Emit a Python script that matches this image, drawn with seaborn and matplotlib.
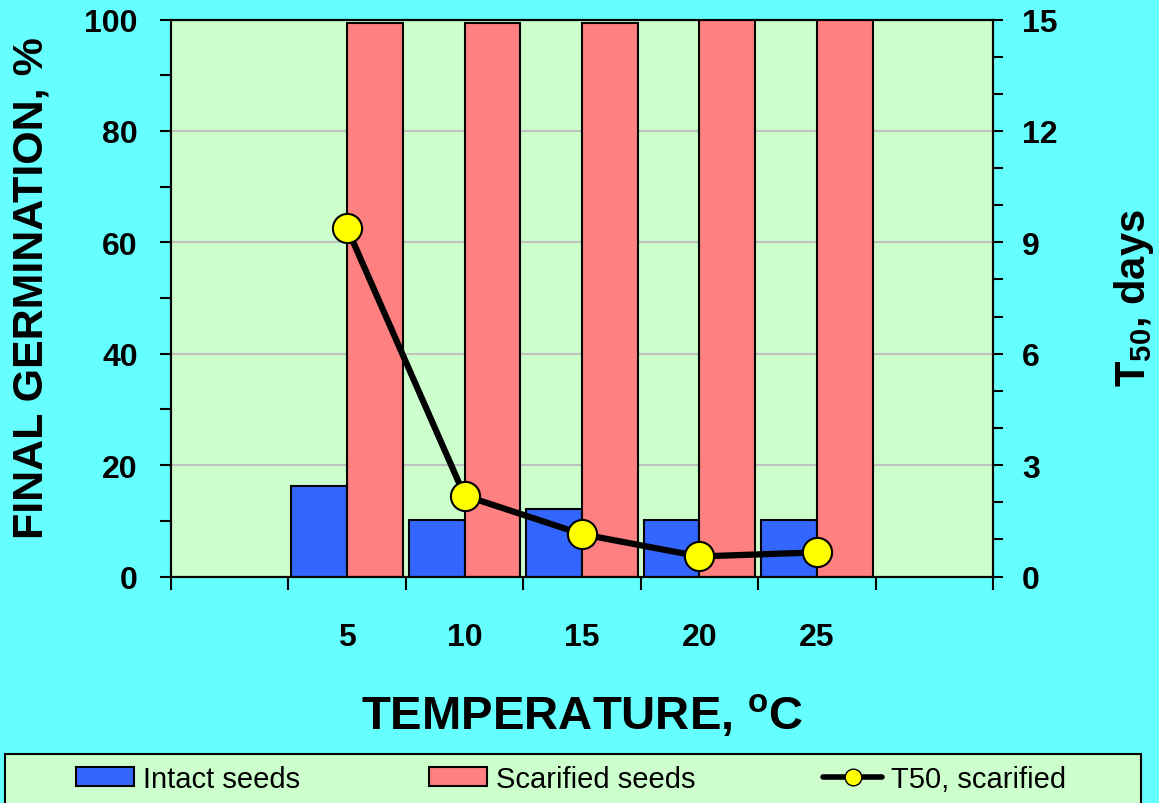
#import python libraries
import numpy as np
import pandas as pd

#import plotting libraries
import matplotlib
matplotlib.use('Agg')
import matplotlib.pyplot as plt
import matplotlib.patches as mpatches
from matplotlib.lines import Line2D
from matplotlib.ticker import MultipleLocator
import seaborn as sns

#data
temperatures = ['5', '10', '15', '20', '25']
intact_seeds = [16.2, 10.2, 12.2, 10.2, 10.2]
scarified_seeds = [99.3, 99.3, 99.3, 100, 100]
t50_scarified = [9.38, 2.18, 1.14, 0.54, 0.65]
series_names = ['Intact seeds', 'Scarified seeds']
line_name = 'T50, scarified'

#colours
intact_colour = '#3366FF'
scarified_colour = '#FF8080'
plot_bg = '#CCFFCC'
fig_bg = '#66FFFF'

sns.set_style('white')
plt.rcParams['font.family'] = ['Liberation Sans', 'DejaVu Sans']
plt.rcParams['mathtext.fontset'] = 'custom'
plt.rcParams['mathtext.rm'] = 'Liberation Sans'
plt.rcParams['mathtext.bf'] = 'Liberation Sans:bold'
for key in ['text.color', 'axes.labelcolor', 'xtick.color', 'ytick.color']:
    plt.rcParams[key] = 'black'

germination = pd.DataFrame({
    'temperature': temperatures * 2,
    'germination': intact_seeds + scarified_seeds,
    'seeds': [series_names[0]] * len(temperatures) + [series_names[1]] * len(temperatures),
})

fig = plt.figure(figsize=(11.59, 8.04), dpi=100, facecolor=fig_bg)
ax = fig.add_axes([171 / 1159, 1 - 577.5 / 804, 822 / 1159, 557 / 804])
ax.set_facecolor(plot_bg)
ax.set_axisbelow(True)

sns.barplot(data=germination, x='temperature', y='germination', hue='seeds',
            order=temperatures, hue_order=series_names,
            palette=[intact_colour, scarified_colour], saturation=1,
            width=0.95, edgecolor='black', linewidth=1.5, ax=ax, legend=False)

#T50 on the right axis
ax2 = ax.twinx()
sns.lineplot(x=np.arange(len(temperatures)), y=t50_scarified, ax=ax2,
             color='black', linewidth=4.5, marker='o', markersize=21,
             markerfacecolor='#FFFF00', markeredgecolor='black',
             markeredgewidth=1.5, legend=False)

ax.set_xlim(-1.5, len(temperatures) + 0.5)
ax.set_ylim(0, 100)
ax2.set_ylim(0, 15)

#x axis: ticks at category edges, labels at centres
ax.set_xticks(np.arange(-1.5, len(temperatures) + 0.6, 1))
ax.set_xticklabels([])
ax.set_xticks(np.arange(len(temperatures)), minor=True)
ax.set_xticklabels(temperatures, minor=True, fontsize=23, fontweight='bold')
ax.tick_params(axis='x', which='major', direction='out', length=9, width=1.5, bottom=True)
ax.tick_params(axis='x', which='minor', length=0, pad=33)

#left axis
ax.yaxis.set_major_locator(MultipleLocator(20))
ax.yaxis.set_minor_locator(MultipleLocator(10))
ax.tick_params(axis='y', which='both', direction='out', length=8, width=1.5, left=True, pad=16)
for lab in ax.get_yticklabels():
    lab.set_fontsize(23)
    lab.set_fontweight('bold')
ax.yaxis.grid(True, which='major', color='#C0C0C0', linewidth=1.5)
ax.set_xlabel('')
ax.set_ylabel('FINAL GERMINATION, %', fontsize=31, fontweight='bold')
ax.yaxis.set_label_coords(-0.145, 0.52)

#right axis
ax2.yaxis.set_major_locator(MultipleLocator(3))
ax2.yaxis.set_minor_locator(MultipleLocator(1))
ax2.tick_params(axis='y', which='both', direction='out', length=7, width=1.5, right=True, pad=14)
for lab in ax2.get_yticklabels():
    lab.set_fontsize(23)
    lab.set_fontweight('bold')
ax2.set_ylabel('')

for a in (ax, ax2):
    for sp in a.spines.values():
        sp.set_color('black')
        sp.set_linewidth(1.5)

fig.text(0.5 * (171 + 993) / 1159, 1 - 716 / 804, r'TEMPERATURE, $^{\mathbf{o}}$C',
         fontsize=34, fontweight='bold', ha='center', va='center')
fig.text(1134 / 1159, 1 - 298 / 804, r'T$_{\mathbf{50}}$, days', fontsize=30,
         fontweight='bold', rotation=90, ha='center', va='center')

#legend box at the bottom
box = mpatches.Rectangle((5 / 1159, -0.02), 1136 / 1159, 0.02 + 1 - 755 / 804,
                         transform=fig.transFigure, facecolor=plot_bg,
                         edgecolor='black', linewidth=1.5, zorder=0)
fig.add_artist(box)
handles = [
    mpatches.Patch(facecolor=intact_colour, edgecolor='black', linewidth=1.5),
    mpatches.Patch(facecolor=scarified_colour, edgecolor='black', linewidth=1.5),
    Line2D([], [], color='black', linewidth=4, marker='o', markersize=12,
           markerfacecolor='#FFFF00', markeredgecolor='black', markeredgewidth=1),
]
fig.legend(handles, series_names + [line_name], loc='center left',
           bbox_to_anchor=(76 / 1159, 1 - 780 / 804), ncol=3, frameon=False,
           fontsize=21, handlelength=2.0, handleheight=0.6, handletextpad=0.3,
           columnspacing=4.4, borderpad=0, borderaxespad=0)

plt.savefig('out.png', dpi=100, facecolor=fig_bg)
